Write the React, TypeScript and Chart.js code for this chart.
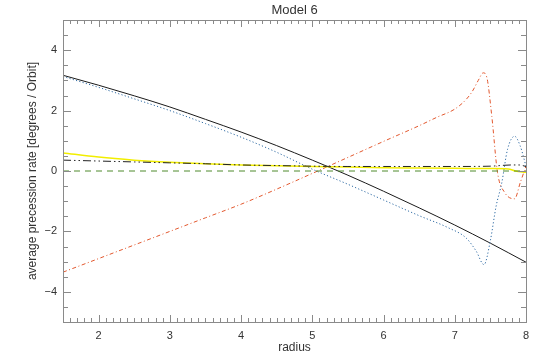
import React, { useEffect, useRef } from "react";
import { Chart, registerables } from "chart.js";

Chart.register(...registerables);

// ---- data ----
const blackX = [1.5, 2, 2.5, 3, 3.5, 4, 4.5, 5, 5.5, 6, 6.5, 7, 7.5, 8];
const blackY = [3.17, 2.84, 2.49, 2.12, 1.71, 1.29, 0.84, 0.36, -0.14, -0.67, -1.22, -1.79, -2.39, -3.02];

const blueX = [1.5, 2, 2.5, 3, 3.5, 4, 4.5, 5, 5.5, 6, 6.5, 6.9, 7.16, 7.3, 7.41, 7.5, 7.58, 7.66, 7.74, 7.84, 7.92, 8];
const blueY = [3.13, 2.77, 2.39, 2.0, 1.57, 1.12, 0.62, 0.06, -0.44, -0.96, -1.48, -1.87, -2.22, -2.65, -3.1, -2.3, -1.17, -0.39, 0.71, 1.15, 0.82, 0.16];

const orangeX = [1.5, 2, 2.5, 3, 3.5, 4, 4.5, 5, 5.5, 6, 6.5, 6.75, 7, 7.16, 7.25, 7.33, 7.4, 7.45, 7.52, 7.6, 7.7, 7.84, 7.92, 8];
const orangeY = [-3.35, -2.9, -2.45, -2.0, -1.55, -1.1, -0.6, -0.08, 0.45, 0.98, 1.5, 1.78, 2.05, 2.37, 2.65, 3.0, 3.25, 3.1, 1.81, -0.05, -0.71, -0.92, -0.38, 0.16];

const yellowX = [1.5, 2, 2.5, 3, 3.5, 4, 4.5, 5, 5.5, 6, 6.5, 7, 7.5, 7.75, 7.85, 8];
const yellowY = [0.6, 0.46, 0.36, 0.29, 0.24, 0.2, 0.17, 0.15, 0.13, 0.11, 0.1, 0.09, 0.08, 0.07, 0.0, -0.04];

const ddX = [1.5, 2, 2.5, 3, 3.5, 4, 4.5, 5, 5.5, 6, 6.5, 7, 7.5, 7.8, 7.9, 8];
const ddY = [0.36, 0.33, 0.3, 0.27, 0.24, 0.2, 0.18, 0.16, 0.15, 0.15, 0.15, 0.15, 0.16, 0.2, 0.2, 0.15];

const zeroX = [1.5, 8];
const zeroY = [0, 0];

const xTicks = [2, 3, 4, 5, 6, 7, 8];
const yTicks = [-4, -2, 0, 2, 4];

const titleText = "Model 6";
const xTitle = "radius";
const yTitle = "average precession rate [degrees / Orbit]";

const FONT = "'Liberation Sans', Arial, sans-serif";

const pts = (xs: number[], ys: number[]) => xs.map((x, i) => ({ x, y: ys[i] }));

const framePlugin = {
  id: "idlFrame",
  afterDraw(chart: any) {
    const { ctx, chartArea, scales } = chart;
    const { left, right, top, bottom } = chartArea;
    const xs = scales.x;
    const ys = scales.y;
    ctx.save();
    ctx.strokeStyle = "#8a8a8a";
    ctx.lineWidth = 1;
    ctx.strokeRect(Math.round(left) + 0.5, Math.round(top) + 0.5, Math.round(right - left), Math.round(bottom - top));
    ctx.beginPath();
    for (let i = 15; i <= 80; i++) {
      const v = i / 10;
      const px = Math.round(xs.getPixelForValue(v)) + 0.5;
      const len = i % 10 === 0 ? 7 : 4;
      ctx.moveTo(px, bottom);
      ctx.lineTo(px, bottom - len);
      ctx.moveTo(px, top);
      ctx.lineTo(px, top + len);
    }
    for (let j = -10; j <= 10; j++) {
      const v = j / 2;
      const py = Math.round(ys.getPixelForValue(v)) + 0.5;
      const len = j % 4 === 0 ? 8 : 5;
      ctx.moveTo(left, py);
      ctx.lineTo(left + len, py);
      ctx.moveTo(right, py);
      ctx.lineTo(right - len, py);
    }
    ctx.stroke();

    ctx.fillStyle = "#333";
    ctx.textAlign = "center";
    ctx.textBaseline = "middle";
    ctx.font = `13px ${FONT}`;
    ctx.fillText(titleText, (left + right) / 2, 10);
    ctx.font = `12px ${FONT}`;
    ctx.fillText(xTitle, (left + right) / 2, 348);
    ctx.save();
    ctx.translate(33, (top + bottom) / 2);
    ctx.rotate(-Math.PI / 2);
    ctx.fillText(yTitle, 0, 0);
    ctx.restore();
    ctx.restore();
  },
};

export default function App() {
  const ref = useRef<HTMLCanvasElement>(null);
  useEffect(() => {
    document.body.style.margin = "0";
    const line = (data: any, color: string, dash: number[], width = 1) => ({
      data,
      borderColor: color,
      borderWidth: width,
      borderDash: dash,
      pointRadius: 0,
      showLine: true,
      fill: false,
      cubicInterpolationMode: "monotone",
    });
    const chart = new Chart(ref.current as HTMLCanvasElement, {
      type: "scatter",
      data: {
        datasets: [
          line(pts(zeroX, zeroY), "#4f8a2c", [6, 5]),
          line(pts(ddX, ddY), "#222222", [8, 3, 1.5, 3, 1.5, 3]),
          line(pts(yellowX, yellowY), "#f2ee00", [], 1.5),
          line(pts(orangeX, orangeY), "#e2572d", [4, 2.5, 1, 2.5]),
          line(pts(blueX, blueY), "#2e6aa3", [1.2, 2.2]),
          line(pts(blackX, blackY), "#1a1a1a", []),
        ] as any,
      },
      options: {
        responsive: false,
        animation: false,
        layout: { padding: { top: 20, right: 19, left: 0, bottom: 0 } },
        plugins: { legend: { display: false }, tooltip: { enabled: false }, title: { display: false } },
        scales: {
          x: {
            type: "linear",
            min: 1.5,
            max: 8,
            grid: { display: false, drawTicks: false },
            border: { display: false },
            afterBuildTicks: (s: any) => {
              s.ticks = xTicks.map((v) => ({ value: v }));
            },
            afterFit: (s: any) => {
              s.height = 41;
            },
            ticks: {
              padding: 7,
              color: "#333",
              font: { family: FONT, size: 11 },
              maxRotation: 0,
              autoSkip: false,
              callback: (v: any) => String(v),
            },
          },
          y: {
            type: "linear",
            min: -5,
            max: 5,
            grid: { display: false, drawTicks: false },
            border: { display: false },
            afterBuildTicks: (s: any) => {
              s.ticks = yTicks.map((v) => ({ value: v }));
            },
            afterFit: (s: any) => {
              s.width = 63;
            },
            ticks: {
              padding: 6,
              color: "#333",
              font: { family: FONT, size: 11 },
              autoSkip: false,
              callback: (v: any) => (Number(v) < 0 ? "\u2212" + Math.abs(Number(v)) : String(v)),
            },
          },
        },
      } as any,
      plugins: [framePlugin],
    });
    return () => chart.destroy();
  }, []);
  return (
    <div style={{ width: 545, height: 363 }}>
      <canvas ref={ref} width={545} height={363} style={{ display: "block" }} />
    </div>
  );
}
